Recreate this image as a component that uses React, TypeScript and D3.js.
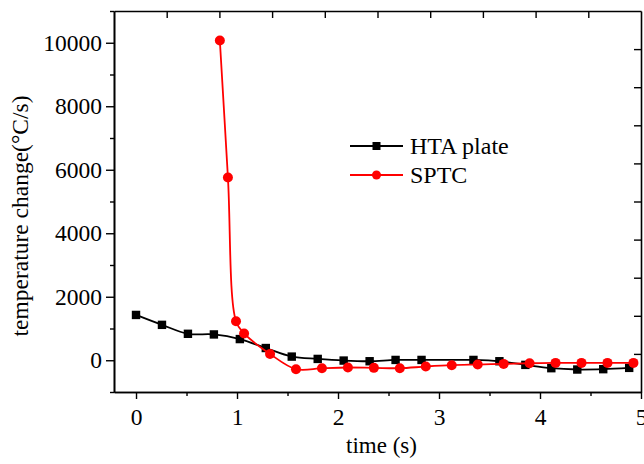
import {useEffect, useRef} from 'react';
import * as d3 from 'd3';

// HTA plate: regular samples, one missing near 3.08 s
const htaTime = [0, 0.257, 0.514, 0.771, 1.028, 1.285, 1.542, 1.799, 2.056, 2.313, 2.57, 2.827, 3.341, 3.598, 3.855, 4.112, 4.369, 4.626, 4.883];
const htaValue = [1427, 1115, 833, 813, 667, 385, 115, 42, -10, -31, 10, 10, 10, -31, -146, -250, -292, -281, -240];

const sptcTime = [0.83, 0.91, 0.99, 1.07, 1.327, 1.584, 1.841, 2.098, 2.355, 2.612, 2.869, 3.126, 3.383, 3.64, 3.897, 4.154, 4.411, 4.668, 4.925];
const sptcValue = [10070, 5755, 1229, 844, 198, -281, -250, -229, -240, -250, -198, -156, -135, -115, -94, -83, -83, -83, -83];

const xMajor = [0, 1, 2, 3, 4, 5];
const xMinor = [0.5, 1.5, 2.5, 3.5, 4.5];
const yMajor = [0, 2000, 4000, 6000, 8000, 10000];
const yMinor = [-1000, 1000, 3000, 5000, 7000, 9000, 11000];
const frameTicks = [1, 2, 3, 4, 5, 6, 7, 8, 9];

const seriesNames = ['HTA plate', 'SPTC'];
const seriesColors = ['#000000', '#ff0000'];

export default function App() {
    const ref = useRef(null);

    useEffect(() => {
        const width = 644;
        const height = 464;
        const m = {left: 114, right: 641, top: 11, bottom: 392};
        const font = '"Liberation Serif", "Times New Roman", serif';

        const svg = d3.select(ref.current);
        svg.selectAll('*').remove();
        svg.attr('width', width).attr('height', height);

        const x = d3.scaleLinear().domain([-0.218, 5]).range([m.left, m.right]);
        const y = d3.scaleLinear().domain([-1000, 11000]).range([m.bottom, m.top]);
        const xTop = d3.scaleLinear().domain([0, 10]).range([m.left, m.right]);
        const yRight = d3.scaleLinear().domain([0, 10]).range([m.bottom, m.top]);

        const styleAxis = (g) => {
            g.selectAll('path').attr('stroke', '#000').attr('stroke-width', 1.6);
            g.selectAll('line').attr('stroke', '#000').attr('stroke-width', 1.4);
            g.selectAll('text').attr('font-family', font).attr('font-size', 23.5).attr('fill', '#000');
        };

        // bottom axis
        svg.append('g')
            .attr('transform', `translate(0,${m.bottom})`)
            .call(d3.axisBottom(x).tickValues(xMinor).tickSize(4).tickSizeOuter(0).tickFormat(() => ''))
            .call(styleAxis);
        svg.append('g')
            .attr('transform', `translate(0,${m.bottom})`)
            .call(d3.axisBottom(x).tickValues(xMajor).tickSize(7).tickSizeOuter(0).tickPadding(9).tickFormat(d3.format('d')))
            .call(styleAxis);

        // left axis
        svg.append('g')
            .attr('transform', `translate(${m.left},0)`)
            .call(d3.axisLeft(y).tickValues(yMinor).tickSize(4).tickSizeOuter(0).tickFormat(() => ''))
            .call(styleAxis);
        svg.append('g')
            .attr('transform', `translate(${m.left},0)`)
            .call(d3.axisLeft(y).tickValues(yMajor).tickSize(8).tickSizeOuter(0).tickPadding(4).tickFormat(d3.format('d')))
            .call(styleAxis);

        // top and right frame with inward ticks
        svg.append('g')
            .attr('transform', `translate(0,${m.top})`)
            .call(d3.axisTop(xTop).tickValues(frameTicks).tickSize(-7).tickSizeOuter(0).tickFormat(() => ''))
            .call(styleAxis);
        svg.append('g')
            .attr('transform', `translate(${m.right},0)`)
            .call(d3.axisRight(yRight).tickValues(frameTicks).tickSize(-7).tickSizeOuter(0).tickFormat(() => ''))
            .call(styleAxis);

        // axis titles
        svg.append('text')
            .attr('x', (m.left + m.right) / 2 + 4)
            .attr('y', 453)
            .attr('text-anchor', 'middle')
            .attr('font-family', font)
            .attr('font-size', 23)
            .text('time (s)');
        svg.append('text')
            .attr('transform', `translate(28,216) rotate(-90)`)
            .attr('text-anchor', 'middle')
            .attr('font-family', font)
            .attr('font-size', 23.5)
            .text('temperature change(°C/s)');

        const line = d3.line()
            .x((d) => x(d[0]))
            .y((d) => y(d[1]))
            .curve(d3.curveCatmullRom.alpha(0.5));

        const hta = htaTime.map((t, i) => [t, htaValue[i]]);
        const sptc = sptcTime.map((t, i) => [t, sptcValue[i]]);

        svg.append('path').datum(hta)
            .attr('d', line).attr('fill', 'none')
            .attr('stroke', seriesColors[0]).attr('stroke-width', 1.8);
        svg.selectAll('.sq')
            .data(hta)
            .enter()
            .append('rect')
            .attr('x', (d) => x(d[0]) - 4.2)
            .attr('y', (d) => y(d[1]) - 4.2)
            .attr('width', 8.4)
            .attr('height', 8.4)
            .attr('fill', seriesColors[0]);

        svg.append('path').datum(sptc)
            .attr('d', line).attr('fill', 'none')
            .attr('stroke', seriesColors[1]).attr('stroke-width', 1.8);
        svg.selectAll('.dot')
            .data(sptc)
            .enter()
            .append('circle')
            .attr('cx', (d) => x(d[0]))
            .attr('cy', (d) => y(d[1]))
            .attr('r', 5)
            .attr('fill', seriesColors[1]);

        // legend
        const lg = svg.append('g').attr('transform', 'translate(350,146)');
        seriesNames.forEach((name, i) => {
            const row = lg.append('g').attr('transform', `translate(0,${i * 29})`);
            row.append('line')
                .attr('x1', 0).attr('x2', 53)
                .attr('stroke', seriesColors[i]).attr('stroke-width', 1.8);
            if (i === 0) {
                row.append('rect').attr('x', 26.5 - 4).attr('y', -4).attr('width', 8).attr('height', 8)
                    .attr('fill', seriesColors[i]);
            } else {
                row.append('circle').attr('cx', 26.5).attr('r', 4.5).attr('fill', seriesColors[i]);
            }
            row.append('text')
                .attr('x', 60)
                .attr('y', 8)
                .attr('font-family', font)
                .attr('font-size', 24)
                .text(name);
        });
    }, []);

    return <svg ref={ref} style={{position: 'absolute', left: 0, top: 0}}></svg>;
}
